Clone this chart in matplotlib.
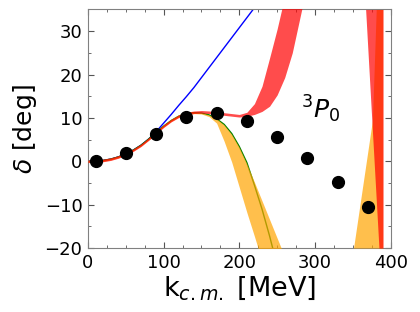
import matplotlib
matplotlib.use("Agg")
import matplotlib.pyplot as plt
from matplotlib.ticker import MultipleLocator

# ---- data ----
k_data = [10, 50, 90, 130, 170, 210, 250, 290, 330, 370]
delta_data = [0.0, 1.8, 6.3, 10.1, 11.2, 9.4, 5.7, 0.8, -4.8, -10.6]

k_blue = [0, 10, 20, 30, 40, 50, 60, 70, 80, 90, 100, 110, 120, 130, 140, 150, 160, 170,
          180, 190, 200, 210, 220, 230]
delta_blue = [0, 0.05, 0.2, 0.5, 1.0, 1.7, 2.6, 3.7, 5.1, 6.8, 8.8, 10.8, 12.9, 14.9, 17.0,
              19.3, 21.6, 23.9, 26.2, 28.5, 30.8, 33.1, 35.4, 37.7]

k_green = [0, 10, 20, 30, 40, 50, 60, 70, 80, 90, 100, 110, 120, 130, 140, 150, 160, 170,
           180, 190, 200, 210, 220, 230, 240, 250]
delta_green = [0, 0.05, 0.2, 0.5, 1.0, 1.7, 2.6, 3.7, 5.1, 6.7, 8.1, 9.4, 10.4, 11.0, 11.2, 11.1,
               10.7, 9.8, 8.5, 6.4, 3.4, -0.3, -5.5, -11.0, -17.2, -24.0]

k_orange = [0, 10, 20, 30, 40, 50, 60, 70, 80, 90, 100, 110, 120, 130, 140, 150, 160, 170,
            180, 190, 200, 210, 220, 230, 240, 250, 260]
orange_lo = [-0.2, -0.15, 0.0, 0.3, 0.8, 1.5, 2.4, 3.5, 4.9, 6.4, 7.9, 9.2, 10.2, 10.8, 11.0, 10.9,
             10.3, 8.8, 4.6, -0.2, -6.0, -11.8, -17.3, -23.0, -29.0, -35.0, -41.0]
orange_hi = [0.2, 0.25, 0.4, 0.7, 1.2, 1.9, 2.8, 3.9, 5.3, 6.9, 8.4, 9.7, 10.7, 11.3, 11.4, 11.2,
             10.7, 9.8, 8.4, 6.2, 3.2, -0.6, -4.8, -9.1, -13.4, -17.7, -22.0]

k_red = [0, 10, 20, 30, 40, 50, 60, 70, 80, 90, 100, 110, 120, 130, 140, 150, 160, 170, 180,
         190, 200, 210, 220, 230, 240, 250, 260, 270, 280, 290]
red_lo = [-0.3, -0.25, -0.1, 0.2, 0.7, 1.4, 2.3, 3.4, 4.8, 6.3, 7.8, 9.1, 10.1, 10.7, 11.0, 11.1,
          11.0, 10.8, 10.6, 10.4, 10.2, 10.4, 10.8, 11.5, 12.7, 15.3, 19.3, 25.0, 33.0, 41.0]
red_hi = [0.3, 0.35, 0.5, 0.8, 1.3, 2.0, 2.9, 4.0, 5.4, 6.9, 8.4, 9.7, 10.7, 11.3, 11.6, 11.7,
          11.6, 11.4, 11.2, 11.0, 10.8, 11.3, 13.3, 17.3, 23.8, 30.5, 38.0, 46.0, 55.0, 65.0]

# right-hand bands (as k-edges at given delta levels)
delta_red2 = [-20, 35]
red2_left = [384.6, 367.0]
red2_right = [390.0, 390.0]

delta_orange2 = [-20, 9.5, 35]
orange2_left = [351.0, 376.0, 381.0]
orange2_right = [389.5, 389.5, 389.5]

label_text = r'$^3P_0$'

# ---- figure ----
fig = plt.figure(figsize=(4.2, 3.12), dpi=100)
ax = fig.add_axes([0.2095, 0.205, 0.7205, 0.7646])

ax.plot(k_blue, delta_blue, color='#0000ff', lw=1.0, zorder=2)
ax.plot(k_green, delta_green, color='#008000', lw=1.0, zorder=2)
ax.fill_between(k_orange, orange_lo, orange_hi, color='orange', alpha=0.7, lw=0, zorder=3)
ax.fill_betweenx(delta_orange2, orange2_left, orange2_right, color='orange', alpha=0.7, lw=0, zorder=3)
ax.fill_between(k_red, red_lo, red_hi, color='red', alpha=0.7, lw=0, zorder=4)
ax.fill_betweenx(delta_red2, red2_left, red2_right, color='red', alpha=0.7, lw=0, zorder=4)
ax.plot(k_data, delta_data, 'o', color='black', ms=8.5, zorder=6)

ax.text(282, 9.85, label_text, fontsize=18, ha='left', va='baseline')

ax.set_xlim(0, 400)
ax.set_ylim(-20, 35)
ax.xaxis.set_major_locator(MultipleLocator(100))
ax.xaxis.set_minor_locator(MultipleLocator(25))
ax.yaxis.set_major_locator(MultipleLocator(10))
ax.yaxis.set_minor_locator(MultipleLocator(5))
ax.tick_params(which='both', direction='in', top=True, right=True, colors='#555555',
               labelcolor='black')
ax.tick_params(which='major', length=4.5, labelsize=13, pad=4)
ax.tick_params(which='minor', length=2.5)
for s in ax.spines.values():
    s.set_color('#808080')

ax.set_xlabel(r'k$_{c.m.}$ [MeV]', fontsize=19.5, labelpad=2)
ax.set_ylabel(r'$\delta$ [deg]', fontsize=18, labelpad=4)

fig.savefig('out.png', dpi=100)
